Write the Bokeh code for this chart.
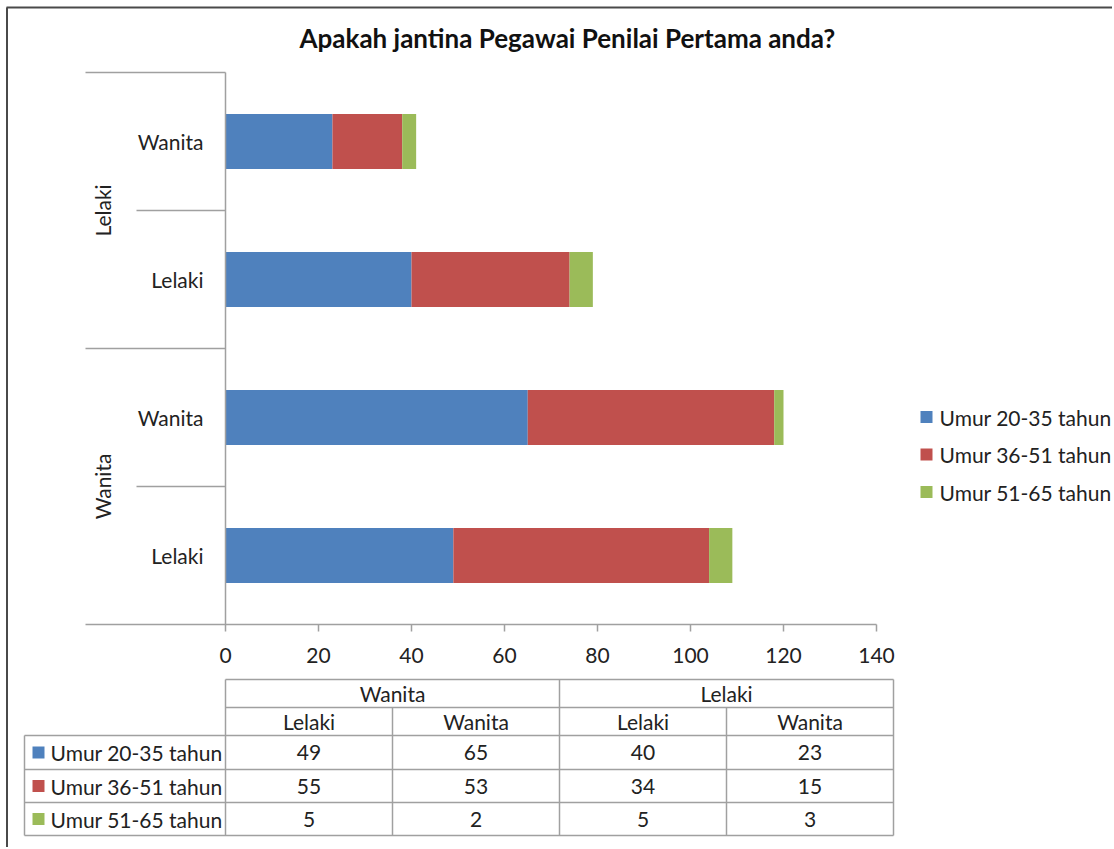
import math
from bokeh.plotting import figure
from bokeh.models import ColumnDataSource, FactorRange, Range1d, FixedTicker
from bokeh.embed import file_html
from bokeh.resources import INLINE
from bokeh.core.properties import value

# ---------------- data ----------------
title_text = "Apakah jantina Pegawai Penilai Pertama anda?"
groups = ["Wanita", "Wanita", "Lelaki", "Lelaki"]        # outer category (bottom -> top)
subgroups = ["Lelaki", "Wanita", "Lelaki", "Wanita"]     # inner category
series_names = ["Umur 20-35 tahun", "Umur 36-51 tahun", "Umur 51-65 tahun"]
umur_20_35 = [49, 65, 40, 23]
umur_36_51 = [55, 53, 34, 15]
umur_51_65 = [5, 2, 5, 3]
colors = ["#4F81BD", "#C0504D", "#9BBB59"]
x_ticks = [0, 20, 40, 60, 80, 100, 120, 140]

# ---------------- style / layout ----------------
FONT = "Lato"
FS = "21px"
TXT = "#222222"
GRID = "#A0A0A0"
W, H = 1112, 847
FL, FR, FT, FB = 85, 876, 72, 624      # plot frame edges in canvas px

factors = list(zip(groups, subgroups))
series = [umur_20_35, umur_36_51, umur_51_65]
NF = len(factors)

yr = FactorRange(factors=factors, group_padding=0, factor_padding=0, range_padding=0)
PX = x_ticks[-1] / (FR - 140 - FL)     # data units per pixel (0 sits 140px right of frame edge)
X0 = -140 * PX
p = figure(width=W, height=H, y_range=yr, x_range=Range1d(X0, x_ticks[-1]),
           output_backend="svg", toolbar_location=None, y_axis_location=None,
           min_border_left=FL, min_border_right=W - FR, min_border_top=FT,
           min_border_bottom=H - FB, title=title_text)
p.xgrid.visible = False
p.ygrid.visible = False
p.outline_line_color = None
# pixel helper range (x) for items outside the plot frame
p.extra_x_ranges = {"px": Range1d(FL, FR)}


def ys(ypx):
    """canvas-pixel y -> synthetic coordinate of the categorical y range"""
    return (FB - ypx) * NF / (FB - FT)


keys = ["s0", "s1", "s2"]
src = ColumnDataSource(dict(y=factors, s0=umur_20_35, s1=umur_36_51, s2=umur_51_65))
rs = p.hbar_stack(keys, y="y", height=0.4, color=colors, line_width=0, source=src)

# category axis decorations (overlay level so frame edges do not clip them)
sep_y = [1, 2, 3, 4]
sep_x0 = [-89 * PX, X0, -89 * PX, X0]
p.segment(x0=sep_x0, y0=sep_y, x1=[0] * 4, y1=sep_y, line_color=GRID, line_width=1.5,
          level="overlay")
p.segment(x0=[0], y0=[0], x1=[0], y1=[NF], line_color=GRID, line_width=1.5, level="overlay")

p.text(x=[0] * NF, y=factors, text=subgroups, x_offset=-22,
       text_align="right", text_baseline="middle", text_font=value(FONT),
       text_font_size=FS, text_color=TXT)
outer = list(dict.fromkeys(groups))
p.text(x=[0] * len(outer), y=outer, text=outer, x_offset=-123, angle=math.pi / 2,
       text_align="center", text_baseline="middle", text_font=value(FONT),
       text_font_size=FS, text_color=TXT)

ax = p.xaxis[0]
ax.ticker = FixedTicker(ticks=x_ticks)
ax.axis_line_color = GRID
ax.axis_line_width = 1.5
ax.major_tick_line_color = GRID
ax.major_tick_line_width = 1.5
ax.major_tick_out = 7
ax.major_tick_in = 0
ax.minor_tick_line_color = None
ax.major_label_text_font = FONT
ax.major_label_text_font_size = FS
ax.major_label_text_color = TXT
ax.major_label_standoff = 16

p.title.text_font = FONT
p.title.text_font_size = "26px"
p.title.text_font_style = "bold"
p.title.text_color = "#111111"
p.title.align = "left"
p.title.offset = 214
p.title.standoff = 38

tk = dict(x_range_name="px", level="overlay")
txt_kw = dict(text_baseline="middle", text_font=value(FONT), text_font_size=FS,
              text_color=TXT, **tk)

# ---------------- legend (right of the plot) ----------------
LEG_X = 926
LEG_Y = [416.5, 454, 491.5]
p.rect(x=[LEG_X] * 3, y=[ys(v) for v in LEG_Y], width=12, height=12,
       width_units="screen", height_units="screen", fill_color=colors,
       line_color=None, **tk)
p.text(x=[LEG_X + 13] * 3, y=[ys(v) for v in LEG_Y], text=series_names,
       text_align="left", **txt_kw)

# ---------------- data table (canvas px, drawn at overlay level) ----------------
LEFT = 24
C0 = 225
CW = 167
col_edges = [C0 + CW * j for j in range(NF + 1)]
R = [679, 707, 735, 769, 802, 835]
RIGHT = col_edges[-1]

hx0, hy0, hx1, hy1 = [], [], [], []
for k, y in enumerate(R):
    hx0.append(C0 if k < 2 else LEFT); hx1.append(RIGHT); hy0.append(ys(y)); hy1.append(ys(y))
hx0.append(LEFT); hx1.append(LEFT); hy0.append(ys(R[2])); hy1.append(ys(R[-1]))
bounds = [0] + [j for j in range(1, NF) if groups[j] != groups[j - 1]] + [NF]
for j in range(NF + 1):
    top = R[0] if j in bounds else R[1]
    x = col_edges[j]
    hx0.append(x); hx1.append(x); hy0.append(ys(top)); hy1.append(ys(R[-1]))
p.segment(x0=hx0, y0=hy0, x1=hx1, y1=hy1, line_color=GRID, line_width=1.5, **tk)

gx, gt = [], []
for a, b in zip(bounds[:-1], bounds[1:]):
    gx.append((col_edges[a] + col_edges[b]) / 2); gt.append(groups[a])
p.text(x=gx, y=[ys((R[0] + R[1]) / 2)] * len(gx), text=gt, text_align="center", **txt_kw)
cx = [(col_edges[j] + col_edges[j + 1]) / 2 for j in range(NF)]
p.text(x=cx, y=[ys((R[1] + R[2]) / 2)] * NF, text=subgroups, text_align="center", **txt_kw)
for i, vals in enumerate(series):
    yc = ys((R[2 + i] + R[3 + i]) / 2)
    p.text(x=cx, y=[yc] * NF, text=[str(v) for v in vals], text_align="center", **txt_kw)
ycs = [ys((R[2 + i] + R[3 + i]) / 2) for i in range(len(series))]
p.rect(x=[38] * len(series), y=ycs, width=12, height=12, width_units="screen",
       height_units="screen", fill_color=colors, line_color=None, **tk)
p.text(x=[50] * len(series), y=ycs, text=series_names, text_align="left", **txt_kw)

# outer chart-area border (top and left)
p.segment(x0=[6, 6.5], y0=[ys(7), ys(7)], x1=[W, 6.5], y1=[ys(7), ys(H)],
          line_color="#4a4a4a", line_width=2, **tk)

open("out.html", "w").write(file_html(p, INLINE))
